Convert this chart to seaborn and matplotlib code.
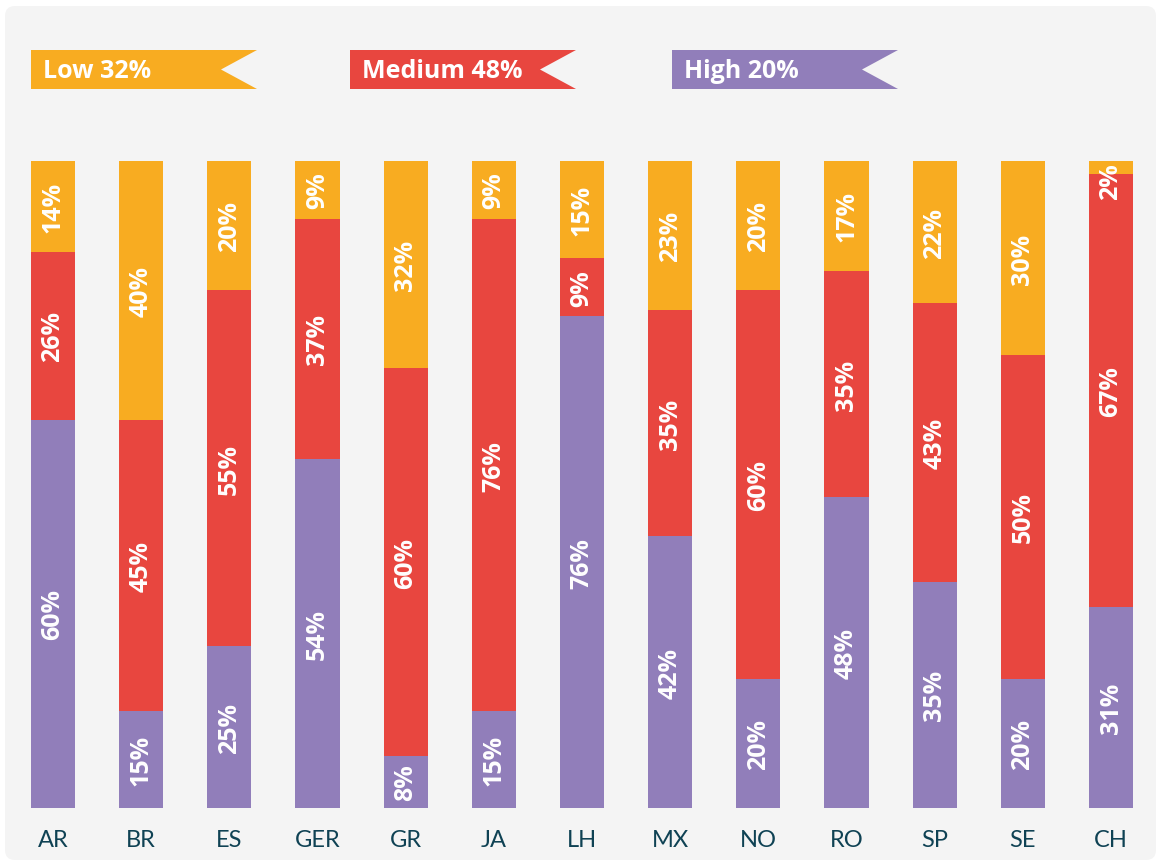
import matplotlib
matplotlib.use("Agg")
import matplotlib.pyplot as plt
import seaborn as sns
import pandas as pd
from matplotlib.patches import Polygon, FancyBboxPatch

# data
countries = ["AR", "BR", "ES", "GER", "GR", "JA", "LH", "MX", "NO", "RO", "SP", "SE", "CH"]
low = [14, 40, 20, 9, 32, 9, 15, 23, 20, 17, 22, 30, 2]
medium = [26, 45, 55, 37, 60, 76, 9, 35, 60, 35, 43, 50, 67]
high = [60, 15, 25, 54, 8, 15, 76, 42, 20, 48, 35, 20, 31]
legend_names = ["Low", "Medium", "High"]
legend_shares = [32, 48, 20]

ORANGE = "#F8AC21"
RED = "#E8463F"
PURPLE = "#917EBA"
PANEL = "#F4F4F4"
TEXT = "#0F4254"
BOLD_FONT = ["Open Sans", "DejaVu Sans"]

sns.set_theme(style="white")
plt.rcParams["font.family"] = ["Lato", "DejaVu Sans"]

W, H = 1157, 862
fig = plt.figure(figsize=(W / 100, H / 100), dpi=100)
fig.patch.set_facecolor("white")

# background layer in pixel coordinates: grey panel + legend banners
bg = fig.add_axes([0, 0, 1, 1], zorder=0)
bg.set_xlim(0, W)
bg.set_ylim(H, 0)
bg.axis("off")
bg.add_patch(FancyBboxPatch((5, 7), 1151, 854, boxstyle="round,pad=0,rounding_size=10",
                            facecolor=PANEL, edgecolor="none"))

banner_left = [31, 350, 672]
banner_w, banner_top, banner_bot, notch = 226, 51, 90, 36
for name, share, color, x0 in zip(legend_names, legend_shares, [ORANGE, RED, PURPLE], banner_left):
    x1 = x0 + banner_w
    ymid = (banner_top + banner_bot) / 2
    pts = [(x0, banner_top), (x1, banner_top), (x1 - notch, ymid), (x1, banner_bot), (x0, banner_bot)]
    bg.add_patch(Polygon(pts, closed=True, facecolor=color, edgecolor="none"))
    bg.text(x0 + 12, ymid + 1.5, f"{name} {share}%", color="white", fontsize=18,
            fontweight="bold", family=BOLD_FONT, va="center", ha="left")

# stacked bars
df = pd.DataFrame({"country": countries, "low": low, "medium": medium, "high": high})
df["mid_cum"] = df["medium"] + df["high"]
df["top_cum"] = df["low"] + df["mid_cum"]

ax = fig.add_axes([8.9 / W, (H - 809) / H, 1146.2 / W, 647 / H], zorder=1)
ax.patch.set_alpha(0)
for col, color in [("top_cum", ORANGE), ("mid_cum", RED), ("high", PURPLE)]:
    sns.barplot(data=df, x="country", y=col, color=color, width=0.5, saturation=1,
                errorbar=None, linewidth=0, ax=ax)

for i, row in df.iterrows():
    segs = [(row["high"], row["high"] / 2),
            (row["medium"], row["high"] + row["medium"] / 2),
            (row["low"], row["mid_cum"] + row["low"] / 2)]
    for val, yc in segs:
        ax.text(i, min(yc, 97), f"{val}%", rotation=90, ha="center", va="center",
                color="white", fontsize=18, fontweight="bold", family=BOLD_FONT)

ax.set_xlim(-0.5, len(countries) - 0.5)
ax.set_ylim(0, 100)
ax.set_xlabel("")
ax.set_ylabel("")
ax.set_yticks([])
ax.tick_params(axis="x", length=0, pad=15, labelsize=17, labelcolor=TEXT)
sns.despine(ax=ax, left=True, bottom=True)

fig.savefig("out.png", dpi=100, facecolor="white")
